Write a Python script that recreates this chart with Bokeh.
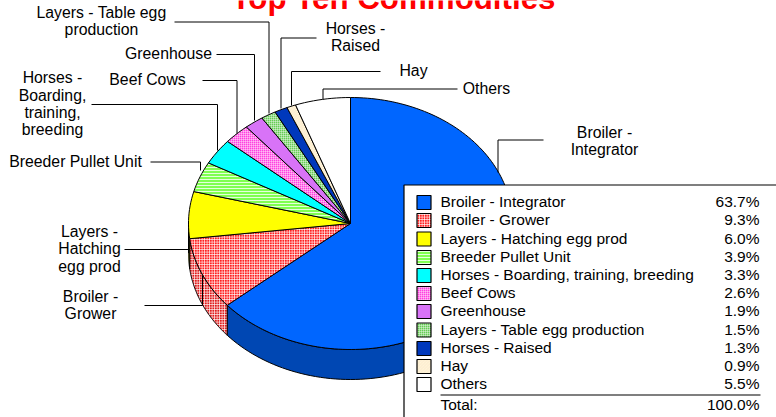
import numpy as np
from bokeh.plotting import figure
from bokeh.models import Range1d
from bokeh.core.properties import value
from bokeh.embed import file_html
from bokeh.resources import INLINE

categories = ["Broiler - Integrator", "Broiler - Grower", "Layers - Hatching egg prod",
              "Breeder Pullet Unit", "Horses - Boarding, training, breeding", "Beef Cows",
              "Greenhouse", "Layers - Table egg production", "Horses - Raised", "Hay", "Others"]
shares = [63.7, 9.3, 6.0, 3.9, 3.3, 2.6, 1.9, 1.5, 1.3, 0.9, 5.5]
share_labels = ["63.7%", "9.3%", "6.0%", "3.9%", "3.3%", "2.6%", "1.9%", "1.5%", "1.3%", "0.9%", "5.5%"]
total_label = "100.0%"
title = "Top Ten Commodities"

fills = ["#0066FF", "#FF2020", "#FFFF00", "#80FF50", "#00FFFF", "#FF40E0", "#D873F7", "#66CC55", "#0038BC", "#FFF6DC", "#FFFFFF"]
sides = ["#0047B3", "#D01818", "#B3B300", "#5AB338", "#00B3B3", "#B32D9D", "#974FAD", "#478F3B", "#002784", "#B3AC9A", "#B3B3B3"]
hatches = [None, "cross", None, "horizontal_line", None, "cross", None, "cross", None, "left_diagonal_line", None]
hatch_cols = [None, "#FFFFFF", None, "#FFFFFF", None, "#FFFFFF", None, "#FFFFFF", None, "#FCEBCB", None]
hatch_scales = [1, 2.5, 1, 3, 1, 2, 1, 2, 1, 3, 1]

W, H = 776, 417
CX, CY, RX, RY, DEPTH = 350.0, 223.0, 162.0, 126.0, 30.0

p = figure(width=W, height=H, x_range=Range1d(0, W), y_range=Range1d(H, 0),
           toolbar_location=None, output_backend="svg", min_border=0,
           outline_line_color=None, background_fill_color="white", border_fill_color="white",
           margin=(0, 0, 0, 0))
p.axis.visible = False
p.grid.visible = False


def pt(a, rx=RX, ry=RY, dy=0.0):
    return CX + rx * np.sin(a), CY - ry * np.cos(a) + dy


def patch(xs, ys, fill, i, lw=1.0):
    kw = {}
    if hatches[i]:
        kw = dict(hatch_pattern=hatches[i], hatch_color=hatch_cols[i],
                  hatch_scale=hatch_scales[i], hatch_weight=0.8)
    p.patch(list(xs), list(ys), fill_color=fill, line_color="black", line_width=lw, **kw)


fr = np.array(shares) / sum(shares)
edges = np.concatenate([[0.0], np.cumsum(fr)]) * 2 * np.pi

# side wall: only the front half of the disc shows
for i in range(len(shares)):
    a0, a1 = max(edges[i], np.pi / 2), min(edges[i + 1], 3 * np.pi / 2)
    if a1 <= a0:
        continue
    t = np.linspace(a0, a1, 80)
    x, y = pt(t)
    xb, yb = pt(t[::-1], dy=DEPTH)
    patch(np.r_[x, xb], np.r_[y, yb], sides[i] if not hatches[i] else "#E01C1C", i)

# top surface
for i in range(len(shares)):
    t = np.linspace(edges[i], edges[i + 1], max(4, int(240 * fr[i])))
    x, y = pt(t)
    patch(np.r_[CX, x], np.r_[CY, y], fills[i], i)

# leader lines
leaders = [
    ([543, 497.5, 497.5], [139.5, 139.5, 172]),
    ([457, 322.5, 322.5], [88.5, 88.5, 99]),
    ([380, 291, 291], [71, 71, 105]),
    ([316, 280.5, 280.5], [37.5, 37.5, 108]),
    ([174, 268.5, 268.5], [21.5, 21.5, 113]),
    ([216, 254, 254], [54, 54, 120]),
    ([202, 236.5, 236.5], [80, 80, 133]),
    ([91, 217, 217], [104, 104, 150]),
    ([150, 200, 200], [161.5, 161.5, 170]),
    ([124, 189], [249, 249]),
    ([144, 202, 202], [305, 305, 275]),
]
for lx, ly in leaders:
    p.line(lx, ly, line_color="black", line_width=1.0)

FONT = value("Liberation Sans")


def txt(x, y, s, align="center", size="15.5px", color="#000000", style="normal"):
    p.text([x], [y], text=[s], text_align=align, text_baseline="middle", text_font=FONT,
           text_font_size=size, text_color=color, text_font_style=style)


txt(393, -2, title, size="31.3px", color="#FF0000", style="bold")

labels = [
    (604, [132, 149], ["Broiler -", "Integrator"]),
    (486, [88], ["Others"]),
    (413, [70], ["Hay"]),
    (355, [28, 45], ["Horses -", "Raised"]),
    (101, [12, 29], ["Layers - Table egg", "production"]),
    (168, [53], ["Greenhouse"]),
    (147, [79], ["Beef Cows"]),
    (52, [77, 95, 112, 129], ["Horses -", "Boarding,", "training,", "breeding"]),
    (75, [161], ["Breeder Pullet Unit"]),
    (89, [231, 248, 266], ["Layers -", "Hatching", "egg prod"]),
    (90, [296, 313], ["Broiler -", "Grower"]),
]
for lx, ys, lines in labels:
    for ly, s in zip(ys, lines):
        txt(lx, ly, s, size="15.8px")

# legend box
p.quad(left=[403.5], right=[780], top=[184.5], bottom=[425], fill_color="white",
       line_color="black", line_width=1.2)
rows = [202, 220, 238.5, 257, 275, 293, 311, 329.5, 348, 366, 384]
for i, ry in enumerate(rows):
    kw = {}
    if hatches[i]:
        kw = dict(hatch_pattern=hatches[i], hatch_color=hatch_cols[i],
                  hatch_scale=hatch_scales[i], hatch_weight=0.8)
    p.quad(left=[416.5], right=[430.5], top=[ry - 7], bottom=[ry + 7], fill_color=fills[i],
           line_color="black", line_width=1.2, **kw)
    txt(440, ry - 1, categories[i], align="left")
    txt(759, ry - 1, share_labels[i], align="right")
p.line([440, 760], [394.5, 394.5], line_color="black", line_width=1.2)
txt(440, 404, "Total:", align="left")
txt(759, 404, total_label, align="right")

open("out.html", "w").write(file_html(p, INLINE))
